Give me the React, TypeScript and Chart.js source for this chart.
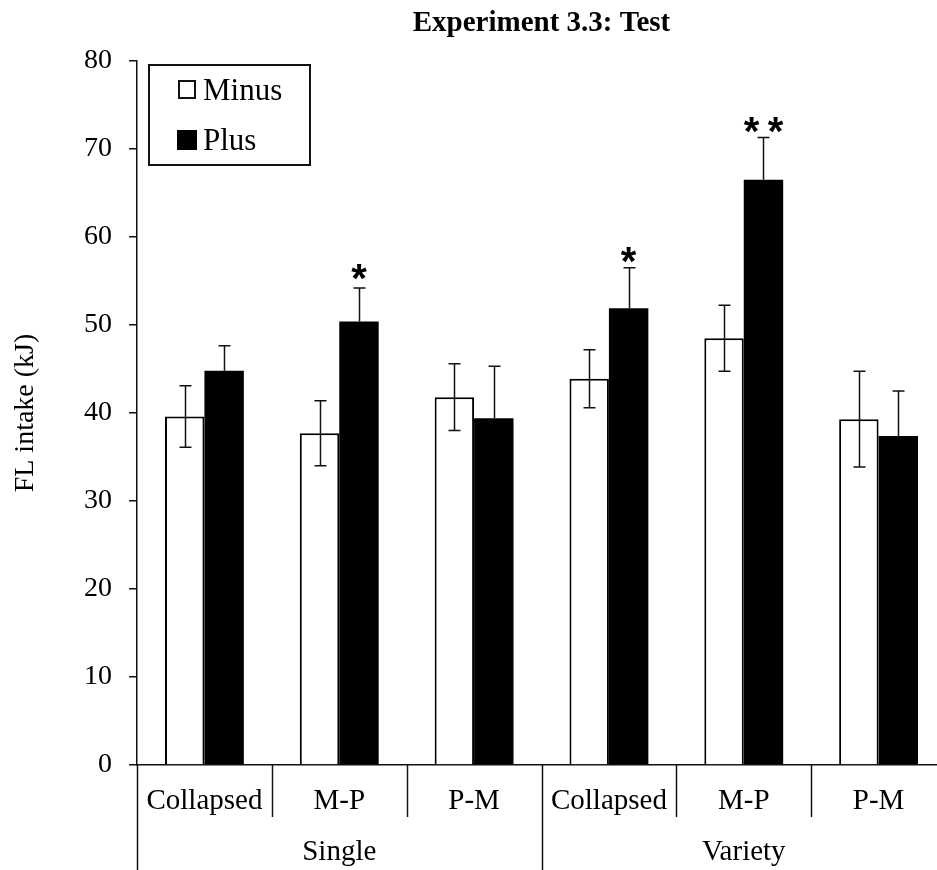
import React, { useEffect, useRef } from 'react';
import { Chart, registerables } from 'chart.js';

Chart.register(...registerables);

const categories = ['Collapsed', 'M-P', 'P-M', 'Collapsed', 'M-P', 'P-M'];
const groups = ['Single', 'Variety'];
const groupSize = 3;
const seriesNames = ['Minus', 'Plus'];
const minusValues = [39.6, 37.7, 41.8, 43.9, 48.5, 39.3];
const minusErrors = [3.5, 3.7, 3.8, 3.3, 3.75, 5.45];
const plusValues = [44.8, 50.4, 39.4, 51.9, 66.5, 37.4];
const plusErrors = [2.85, 3.8, 5.9, 4.6, 4.8, 5.1];
const sigMarks = ['', '*', '', '*', '**', ''];
const sigLevels = [0, 56.0, 0, 58.0, 72.7, 0];
const yTicksMin = 0;
const yTicksMax = 80;
const yTickStep = 10;
const chartTitle = 'Experiment 3.3: Test';
const yAxisTitle = 'FL intake (kJ)';

const SERIF = '"Liberation Serif", "Times New Roman", serif';

export default function App() {
  const ref = useRef<HTMLCanvasElement>(null);

  useEffect(() => {
    const canvas = ref.current as HTMLCanvasElement;

    const overlay = {
      id: 'overlay',
      afterDatasetsDraw(chart: any) {
        const ctx = chart.ctx as CanvasRenderingContext2D;
        const y = chart.scales.y;
        const errs = [minusErrors, plusErrors];
        const vals = [minusValues, plusValues];
        ctx.save();
        ctx.strokeStyle = '#111';
        ctx.lineWidth = 1.5;
        for (let d = 0; d < 2; d++) {
          const meta = chart.getDatasetMeta(d);
          meta.data.forEach((el: any, i: number) => {
            const x = Math.round(el.x) + 0.5;
            const top = y.getPixelForValue(vals[d][i] + errs[d][i]);
            const bot = y.getPixelForValue(vals[d][i] - errs[d][i]);
            const base = y.getPixelForValue(vals[d][i]);
            ctx.beginPath();
            ctx.moveTo(x, top);
            ctx.lineTo(x, d === 1 ? base : bot);
            ctx.moveTo(x - 6, top);
            ctx.lineTo(x + 6, top);
            if (d === 0) {
              ctx.moveTo(x - 6, bot);
              ctx.lineTo(x + 6, bot);
            }
            ctx.stroke();
          });
        }
        // significance stars
        ctx.fillStyle = '#000';
        ctx.font = 'bold 40px "Liberation Sans", Arial, sans-serif';
        ctx.textAlign = 'center';
        ctx.textBaseline = 'alphabetic';
        const m = ctx.measureText('*');
        const shift = (m.actualBoundingBoxAscent - m.actualBoundingBoxDescent) / 2;
        const plusMeta = chart.getDatasetMeta(1);
        sigMarks.forEach((s, i) => {
          if (!s) return;
          const cx = plusMeta.data[i].x;
          const cy = y.getPixelForValue(sigLevels[i]);
          const n = s.length;
          for (let k = 0; k < n; k++) {
            const sx = cx + (k - (n - 1) / 2) * 24;
            ctx.fillText('*', sx, cy + shift);
          }
        });
        ctx.restore();
      },
      afterDraw(chart: any) {
        const ctx = chart.ctx as CanvasRenderingContext2D;
        const area = chart.chartArea;
        const xs = chart.scales.x;
        ctx.save();
        // title
        ctx.fillStyle = '#000';
        ctx.font = 'bold 29px ' + SERIF;
        ctx.textAlign = 'center';
        ctx.textBaseline = 'alphabetic';
        ctx.fillText(chartTitle, (area.left + area.right) / 2, 31);

        // category labels & separators
        const n = categories.length;
        const step = (area.right - area.left) / n;
        ctx.strokeStyle = '#111';
        ctx.lineWidth = 1.5;
        for (let i = 0; i <= n; i++) {
          const bx = Math.round(area.left + step * i) + 0.5;
          const isGroup = i % groupSize === 0;
          ctx.beginPath();
          ctx.moveTo(bx, area.bottom);
          ctx.lineTo(bx, isGroup ? chart.height : area.bottom + 52);
          ctx.stroke();
        }
        ctx.font = '29px ' + SERIF;
        categories.forEach((c, i) => {
          ctx.fillText(c, xs.getPixelForValue(i), area.bottom + 44);
        });
        groups.forEach((g, gi) => {
          const cx = area.left + step * (gi * groupSize + groupSize / 2);
          ctx.fillText(g, cx, area.bottom + 95);
        });

        // legend
        const lx = area.left + 11;
        const ly = area.top + 3;
        ctx.lineWidth = 2;
        ctx.strokeStyle = '#111';
        ctx.strokeRect(lx + 1, ly + 1, 161, 100);
        ctx.fillStyle = '#fff';
        ctx.fillRect(lx + 31, ly + 17, 16, 17);
        ctx.strokeRect(lx + 31, ly + 17, 16, 17);
        ctx.fillStyle = '#000';
        ctx.fillRect(lx + 29, ly + 66, 20, 20);
        ctx.font = '31px ' + SERIF;
        ctx.textAlign = 'left';
        ctx.fillText(seriesNames[0], lx + 55, ly + 36);
        ctx.fillText(seriesNames[1], lx + 55, ly + 86);
        ctx.restore();
      },
    };

    const chart = new Chart(canvas, {
      type: 'bar',
      data: {
        labels: categories,
        datasets: [
          {
            label: seriesNames[0],
            data: minusValues,
            backgroundColor: '#ffffff',
            borderColor: '#000000',
            borderWidth: 2,
            barPercentage: 1,
            categoryPercentage: 0.585,
          },
          {
            label: seriesNames[1],
            data: plusValues,
            backgroundColor: '#000000',
            borderColor: '#000000',
            borderWidth: 0,
            barPercentage: 1,
            categoryPercentage: 0.585,
          },
        ],
      },
      options: {
        responsive: false,
        animation: false,
        devicePixelRatio: 1,
        layout: { padding: { top: 61, right: 14, bottom: 0, left: 0 } },
        plugins: {
          legend: { display: false },
          title: { display: false },
          tooltip: { enabled: false },
        },
        scales: {
          x: {
            type: 'category',
            grid: { display: false },
            ticks: { display: false },
            border: { display: true, color: '#111', width: 1.5 },
            afterFit: (s: any) => {
              s.height = 105;
            },
          },
          y: {
            min: yTicksMin,
            max: yTicksMax,
            ticks: {
              stepSize: yTickStep,
              color: '#000',
              padding: 17,
              font: { family: SERIF, size: 28 },
            },
            grid: {
              drawOnChartArea: false,
              drawTicks: true,
              tickLength: 8,
              color: '#111',
              lineWidth: 1.5,
            },
            border: { display: true, color: '#111', width: 1.5 },
            title: {
              display: true,
              text: yAxisTitle,
              color: '#000',
              font: { family: SERIF, size: 28 },
              padding: { top: 9, bottom: 0 },
            },
            afterFit: (s: any) => {
              s.width = 137;
            },
          },
        },
      },
      plugins: [overlay],
    } as any);

    return () => chart.destroy();
  }, []);

  return (
    <div
      style={{
        position: 'fixed',
        left: 0,
        top: 0,
        width: 937,
        height: 870,
        overflow: 'hidden',
        background: '#fff',
      }}
    >
      <canvas ref={ref} width={960} height={870} style={{ display: 'block' }} />
    </div>
  );
}
